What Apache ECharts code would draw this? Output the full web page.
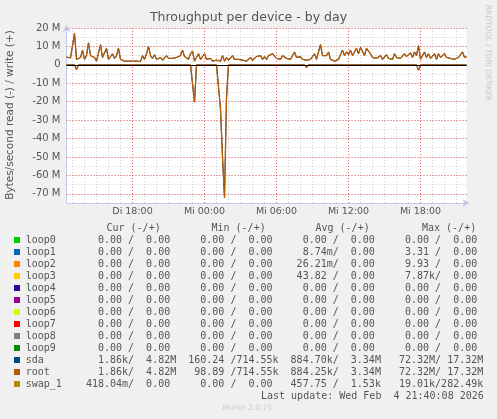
<!DOCTYPE html>
<html>
<head>
<meta charset="utf-8">
<script src="https://cdn.jsdelivr.net/npm/echarts@6/dist/echarts.min.js"></script>
<style>
  html, body { margin: 0; padding: 0; background: #f0f0f0; }
  #chart { width: 497px; height: 419px; }
</style>
</head>
<body>
<div id="chart"></div>
<script>
// time labels shown on the x axis
const tickLabels = ['Di 18:00', 'Mi 00:00', 'Mi 06:00', 'Mi 12:00', 'Mi 18:00']
// major y grid values (M)
const majorTicks = [-70, -60, -50, -40, -30, -20, -10, 10, 20]
// root / sda write (+), MB/s, one value per 10 minutes from Di 12:30 to Mi 21:50
const writeM = [
  4.2, 3.5, 3.8, 3, 17, 3, 2.5, 4, 8, 3, 5, 12, 5, 4.5, 4, 2, 2.5, 11, 4, 3.5,
  9, 3, 4.5, 6, 3.5, 5, 9, 3, 2.5, 2, 3, 2, 2.5, 2, 3, 2, 2, 1.8, 5, 3,
  6, 10, 5, 3.5, 5.5, 3, 2.5, 4, 2.5, 3, 5, 3.5, 2.5, 3.5, 2.5, 4, 3, 5, 8, 4.5,
  5, 3, 6, 7.5, 2, 4, 6, 3, 4.5, 6, 3, 2.5, 3.5, 2, 3, 2.5, 3, 2, 5, 2,
  4, 2.5, 3.5, 5, 3, 2, 3, 4, 2.5, 3, 2, 3, 4, 2.5, 3, 4.5, 3.5, 5, 3, 4.5,
  3, 5, 4, 6, 7, 3.5, 4.5, 3, 5, 6, 3.5, 4, 3, 5, 7, 4, 3.5, 4.5, 3, 4,
  2.5, 3.5, 3, 4, 6, 3, 4, 11, 5, 4, 5, 7, 3, 2.5, 2, 2.5, 3, 4, 8, 5,
  7, 5.5, 8, 5, 6, 9, 6, 9.5, 10, 5, 9, 10, 6, 4, 5, 3.5, 4, 5, 3, 4,
  5.5, 3.5, 4.5, 3, 6, 4, 5, 3.5, 4, 6, 4.5, 5, 6.5, 4, 7, 5, 10.5, 3, 4, 7,
  4, 6, 3.5, 4, 6, 3, 6, 4, 3.5, 6, 4, 3, 3.5, 4, 3, 3.5, 4, 3, 7, 4,
  4.5
]
// root / sda read (-), MB/s, same sampling
const readM = [
  0, 0, 0, 0, 0, 2.7, 0, 0, 0, 0, 0, 0, 0, 1, 0, 0, 0, 0, 0, 0,
  0, 0, 0, 0, 0, 0, 0, 0, 0, 0, 0, 0, 0, 0, 0, 0, 0, 0, 0, 0,
  0, 0, 0, 0, 0, 0, 0, 0, 0, 0, 0, 0, 0, 0, 0, 0, 0, 0, 0, 0,
  0, 0, 0, 0, 20.3, 0, 0, 0, 0, 0, 0, 0, 0, 0, 0, 0, 0, 24, 50, 72.3,
  18, 0, 0, 0, 0, 0, 0, 0, 0, 0, 0, 0, 0, 0, 0, 0, 0, 0, 0, 0,
  1, 0, 0, 0, 0, 0, 0, 0, 0, 0, 0, 0, 0, 0, 0, 0, 0, 0, 0, 0,
  1.5, 0, 0, 0, 0, 0, 0, 0, 0, 0, 0, 0, 0, 0, 0, 0, 0, 0, 0, 0,
  0, 0, 0, 0, 0, 0, 0, 0, 0, 0, 0, 0, 0, 0, 0, 0, 0, 0, 0, 0,
  0, 0, 0, 0, 0, 0, 0, 0, 0, 0, 0, 0, 0, 0, 0, 0, 3, 0, 0, 0,
  0, 0, 0, 0, 0, 0, 0, 0, 0, 0, 0, 0, 0, 0, 0, 0, 0, 0, 0, 0,
  0
]

// legend table
const names = ['loop0', 'loop1', 'loop2', 'loop3', 'loop4', 'loop5', 'loop6', 'loop7', 'loop8', 'loop9', 'sda', 'root', 'swap_1']
const colors = ['#00CC00', '#0066B3', '#FF8000', '#FFCC00', '#330099', '#990099', '#CCFF00', '#FF0000', '#808080', '#008F00', '#00487D', '#B35A00', '#B38F00']
const zero = '  0.00 /  0.00 '
const curCol = [zero, zero, zero, zero, zero, zero, zero, zero, zero, zero, '  1.86k/  4.82M', '  1.86k/  4.82M', '418.04m/  0.00 ']
const minCol = [zero, zero, zero, zero, zero, zero, zero, zero, zero, zero, '160.24 /714.55k', ' 98.89 /714.55k', zero]
const avgCol = [zero, '  8.74m/  0.00 ', ' 26.21m/  0.00 ', ' 43.82 /  0.00 ', zero, zero, zero, zero, zero, zero, '884.70k/  3.34M', '884.25k/  3.34M', '457.75 /  1.53k']
const maxCol = [zero, '  3.31 /  0.00 ', '  9.93 /  0.00 ', '  7.87k/  0.00 ', zero, zero, zero, zero, zero, zero, ' 72.32M/ 17.32M', ' 72.32M/ 17.32M', ' 19.01k/282.49k']
const lastUpdate = 'Last update: Wed Feb  4 21:40:08 2026'

// categories every 10 minutes starting Di 12:30
const dayNames = ['Di', 'Mi']
const times = []
for (let i = 0; i < writeM.length; i++) {
  let m = 12 * 60 + 30 + i * 10
  let d = dayNames[Math.floor(m / 1440)]
  let hh = Math.floor((m % 1440) / 60)
  let mm = m % 60
  times.push(d + ' ' + (hh < 10 ? '0' + hh : hh) + ':' + (mm < 10 ? '0' + mm : mm))
}

const textColor = '#555'
const minorGrid = '#cccccc'
const majorGrid = '#e86060'
const dots = [1, 2]
const axisColor = '#c3c9e8'
const mono = '"DejaVu Sans Mono", monospace'
const sans = '"DejaVu Sans", sans-serif'

let graphics = [
  { type: 'text', left: 'center', top: 11, style: { text: 'Throughput per device - by day', fill: textColor, font: '12.5px ' + sans } },
  { type: 'text', x: 10, y: 115, rotation: Math.PI / 2, style: { text: 'Bytes/second read (-) / write (+)', fill: textColor, font: '10.5px ' + sans, align: 'center', verticalAlign: 'middle' } },
  { type: 'text', x: 488, y: 53, rotation: -Math.PI / 2, style: { text: 'RRDTOOL / TOBI OETIKER', fill: '#c8c8c8', font: '7.5px ' + sans, align: 'center', verticalAlign: 'middle' } },
  { type: 'text', x: 106.5, y: 228, style: { text: 'Cur (-/+)', fill: textColor, font: '10px ' + mono, verticalAlign: 'middle' } },
  { type: 'text', x: 211.5, y: 228, style: { text: 'Min (-/+)', fill: textColor, font: '10px ' + mono, verticalAlign: 'middle' } },
  { type: 'text', x: 315.5, y: 228, style: { text: 'Avg (-/+)', fill: textColor, font: '10px ' + mono, verticalAlign: 'middle' } },
  { type: 'text', x: 422, y: 228, style: { text: 'Max (-/+)', fill: textColor, font: '10px ' + mono, verticalAlign: 'middle' } },
  { type: 'text', x: 261, y: 396, style: { text: lastUpdate, fill: textColor, font: '10px ' + mono, verticalAlign: 'middle' } },
  { type: 'text', x: 222.5, y: 408, style: { text: 'Munin 2.0.75', fill: '#cccccc', font: '7.6px ' + sans, verticalAlign: 'middle' } }
]
names.forEach((n, i) => {
  let y = 240 + i * 12
  graphics.push({ type: 'rect', shape: { x: 14, y: y - 3, width: 6, height: 6 }, style: { fill: colors[i] } })
  graphics.push({
    type: 'text', x: 25.7, y: y,
    style: { text: n.padEnd(10) + curCol[i] + '  ' + minCol[i] + '  ' + avgCol[i] + '  ' + maxCol[i], fill: textColor, font: '10px ' + mono, verticalAlign: 'middle' }
  })
})

const readNeg = readM.map(v => -v)

let myChart = echarts.init(document.getElementById('chart'))
myChart.setOption({
  animation: false,
  backgroundColor: '#f0f0f0',
  grid: { left: 66.5, right: 30.5, top: 28, bottom: 216, show: true, backgroundColor: '#fff', borderWidth: 0 },
  graphic: graphics,
  xAxis: {
    type: 'category',
    data: times,
    boundaryGap: false,
    axisLine: { show: true, onZero: false, lineStyle: { color: axisColor }, symbol: ['none', 'arrow'], symbolSize: [6, 7], symbolOffset: [0, 3] },
    axisTick: { show: false },
    axisLabel: {
      interval: (idx, val) => tickLabels.indexOf(val) >= 0,
      color: textColor, fontSize: 9.5, fontFamily: 'DejaVu Sans', margin: 4
    },
    splitLine: {
      show: true,
      interval: (idx, val) => val.slice(-3) === ':00' && tickLabels.indexOf(val) < 0,
      lineStyle: { color: minorGrid, type: dots, width: 1 }
    }
  },
  yAxis: {
    type: 'value',
    min: -75,
    max: 20,
    interval: 5,
    axisLine: { show: true, lineStyle: { color: axisColor }, symbol: ['none', 'arrow'], symbolSize: [6, 7], symbolOffset: [0, 3] },
    axisTick: { show: false },
    axisLabel: {
      color: textColor, fontSize: 10, fontFamily: 'DejaVu Sans', margin: 6,
      formatter: v => (v % 10 !== 0 ? '' : (v === 0 ? '0' : v + ' M'))
    },
    splitLine: { show: true, lineStyle: { color: minorGrid, type: dots, width: 1 } }
  },
  series: [
    {
      name: 'grid', type: 'line', data: [], silent: true, z: 1,
      markLine: {
        silent: true, symbol: 'none', label: { show: false }, animation: false,
        lineStyle: { color: majorGrid, type: dots, width: 1 },
        data: majorTicks.map(v => ({ yAxis: v })).concat(tickLabels.map(t => ({ xAxis: t })))
      }
    },
    { name: 'sda read', type: 'line', data: readNeg, showSymbol: false, lineStyle: { width: 1, color: '#00487D' }, itemStyle: { color: '#00487D' } },
    { name: 'sda write', type: 'line', data: writeM, showSymbol: false, lineStyle: { width: 1, color: '#00487D' }, itemStyle: { color: '#00487D' } },
    { name: 'root read', type: 'line', data: readNeg, showSymbol: false, lineStyle: { width: 1.3, color: '#B35A00' }, itemStyle: { color: '#B35A00' } },
    {
      name: 'root write', type: 'line', data: writeM, showSymbol: false, lineStyle: { width: 1.3, color: '#B35A00' }, itemStyle: { color: '#B35A00' },
      markLine: { silent: true, symbol: 'none', label: { show: false }, lineStyle: { color: '#000', type: 'solid', width: 1 }, data: [{ yAxis: 0 }] }
    }
  ]
})
</script>
</body>
</html>
